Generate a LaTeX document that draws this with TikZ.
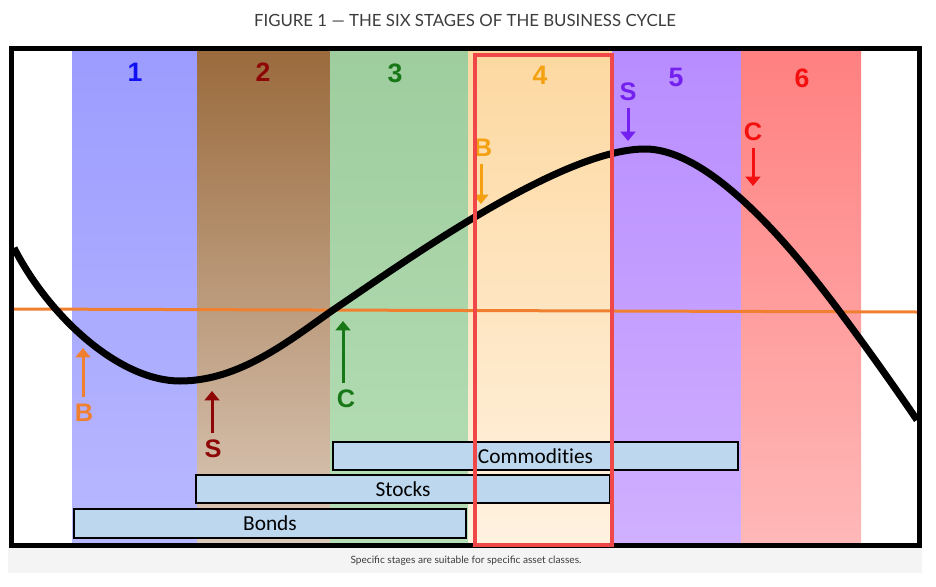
\documentclass[tikz,border=0pt]{standalone}
\usepackage{fontspec}
\setmainfont{Lato}
\newfontfamily\arialfont{Liberation Sans}
\newfontfamily\calfont[Ligatures=NoCommon]{Carlito}
\usepackage{xcolor}
\usetikzlibrary{arrows.meta}

\definecolor{titlegray}{HTML}{3C3C3C}
\definecolor{capgray}{HTML}{F4F4F4}
\definecolor{barblue}{HTML}{BDD7EE}
\definecolor{lineorange}{HTML}{F08030}
\definecolor{redbox}{HTML}{F04848}
\definecolor{numblue}{HTML}{1010F0}
\definecolor{numbrown}{HTML}{8E0606}
\definecolor{numgreen}{HTML}{187818}
\definecolor{numorange}{HTML}{F5A010}
\definecolor{numpurple}{HTML}{7420F0}
\definecolor{numred}{HTML}{F51010}

\begin{document}
\begin{tikzpicture}[x={(0.75pt,0)}, y={(0,-0.75pt)},
	stagenum/.style={font=\arialfont\bfseries\fontsize{20}{20}\selectfont, inner sep=0pt},
	signal/.style={font=\arialfont\bfseries\fontsize{19}{19}\selectfont, inner sep=0pt},
	sigarrow/.style={line width=2.25pt, shorten <=5pt, -{Triangle[width=11pt,length=7pt]}},
	assetbar/.style={draw=black, line width=1.5pt, fill=barblue, inner sep=0pt, font=\calfont\fontsize{16}{16}\selectfont}]
	\useasboundingbox (0,0) rectangle (936,586);
	\node[font=\fontsize{12.6}{13}\selectfont, text=titlegray] (title) at (465,20) {FIGURE 1 — THE SIX STAGES OF THE BUSINESS CYCLE};
	\fill[capgray] (8,547) rectangle (922,573);
	\node[font=\fontsize{7.6}{8}\selectfont, text=titlegray] (caption) at (466,561) {Specific stages are suitable for specific asset classes.};
	% the six stages
	\shade[top color={rgb,255:red,156;green,156;blue,255}, bottom color={rgb,255:red,184;green,184;blue,255}] (72,48) rectangle (197,545);
	\shade[top color={rgb,255:red,154;green,106;blue,60}, bottom color={rgb,255:red,220;green,202;blue,186}] (197,48) rectangle (330,545);
	\shade[top color={rgb,255:red,158;green,205;blue,158}, bottom color={rgb,255:red,182;green,222;blue,182}] (330,48) rectangle (468,545);
	\shade[top color={rgb,255:red,253;green,216;blue,160}, bottom color={rgb,255:red,255;green,242;blue,224}] (468,48) rectangle (612,545);
	\shade[top color={rgb,255:red,184;green,140;blue,255}, bottom color={rgb,255:red,208;green,176;blue,255}] (612,48) rectangle (741,545);
	\shade[top color={rgb,255:red,255;green,128;blue,128}, bottom color={rgb,255:red,255;green,184;blue,184}] (741,48) rectangle (861,545);
	\node[stagenum, text=numblue] (s1) at (135,72) {1};
	\node[stagenum, text=numbrown] (s2) at (263,72) {2};
	\node[stagenum, text=numgreen] (s3) at (395,73) {3};
	\node[stagenum, text=numorange] (s4) at (540,75) {4};
	\node[stagenum, text=numpurple] (s5) at (676,77) {5};
	\node[stagenum, text=numred] (s6) at (802,78) {6};
	% zero line and cycle
	\draw[lineorange, line width=2.25pt] (14,309) -- (917,312);
	\draw[line width=5.25pt] (14,248) .. controls (50,318) and (120,381) .. (180,381)
		.. controls (240,381) and (290,340) .. (333,310)
		.. controls (400,265) and (560,149) .. (645,149)
		.. controls (710,149) and (790,245) .. (840,312)
		.. controls (870,352) and (900,395) .. (917,420);
	% signals
	\node[signal, text=lineorange] (buy1) at (84,413) {B};
	\coordinate (buy1tip) at (83,348);
	\draw[sigarrow, lineorange] (buy1.north -| buy1tip) -- (buy1tip);
	\node[signal, text=numbrown] (sell2) at (213,449) {S};
	\coordinate (sell2tip) at (212,391);
	\draw[sigarrow, numbrown] (sell2.north -| sell2tip) -- (sell2tip);
	\node[signal, text=numgreen] (comm3) at (346,399) {C};
	\coordinate (comm3tip) at (343,321);
	\draw[sigarrow, numgreen] (comm3.north -| comm3tip) -- (comm3tip);
	\node[signal, text=numorange] (buy4) at (483,148) {B};
	\coordinate (buy4tip) at (481,204);
	\draw[sigarrow, numorange] (buy4.south -| buy4tip) -- (buy4tip);
	\node[signal, text=numpurple] (sell5) at (628,92) {S};
	\coordinate (sell5tip) at (628,141);
	\draw[sigarrow, numpurple] (sell5.south -| sell5tip) -- (sell5tip);
	\node[signal, text=numred] (comm6) at (753,132) {C};
	\coordinate (comm6tip) at (753,186);
	\draw[sigarrow, numred] (comm6.south -| comm6tip) -- (comm6tip);
	% asset classes
	\node[assetbar, minimum width=303.75pt, minimum height=21pt] (commodities) at (535.5,456) {Commodities};
	\node[assetbar, minimum width=310.5pt, minimum height=21pt] (stocks) at (403,489) {Stocks};
	\node[assetbar, minimum width=294pt, minimum height=21.75pt] (bonds) at (270,523.5) {Bonds};
	% frame and stage 4
	\draw[line width=3.75pt] (11.5,48) rectangle (919.5,545);
	\draw[redbox, line width=3pt] (474.5,55) rectangle (612,545);
\end{tikzpicture}
\end{document}
